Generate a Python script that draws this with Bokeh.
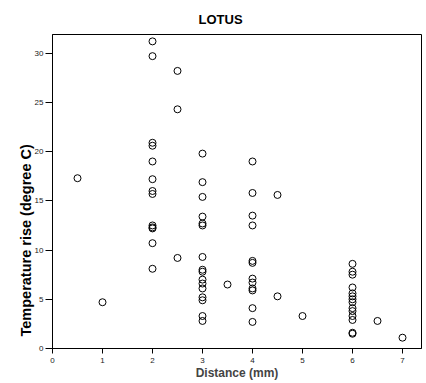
from bokeh.plotting import figure
from bokeh.models import Range1d, FixedTicker, Title
from bokeh.embed import file_html
from bokeh.resources import INLINE

# Data (distance in mm, temperature rise in degree C)
distance = (
    [0.5, 1.0]
    + [2.0] * 13
    + [2.5] * 3
    + [3.0] * 16
    + [3.5]
    + [4.0] * 12
    + [4.5] * 2
    + [5.0]
    + [6.0] * 14
    + [6.5, 7.0]
)
temperature = (
    [17.3, 4.7]
    + [31.2, 29.7, 20.9, 20.6, 19.0, 17.2, 16.0, 15.7, 12.5, 12.3, 12.2, 10.7, 8.1]
    + [28.2, 24.3, 9.2]
    + [19.8, 16.9, 15.4, 13.4, 12.7, 12.5, 9.3, 8.0, 7.8, 7.0, 6.6, 6.1, 5.2, 4.9, 3.3, 2.8]
    + [6.5]
    + [19.0, 15.8, 13.5, 12.5, 8.9, 8.7, 7.1, 6.7, 6.1, 5.9, 4.1, 2.7]
    + [15.6, 5.3]
    + [3.3]
    + [8.6, 7.8, 7.5, 6.2, 5.6, 5.3, 5.0, 4.7, 4.1, 3.8, 3.3, 2.9, 1.6, 1.5]
    + [2.8, 1.1]
)
x_ticks = [0, 1, 2, 3, 4, 5, 6, 7]
y_ticks = [0, 5, 10, 15, 20, 25, 30]

title_text = "LOTUS"
x_label = "Distance (mm)"
y_label = "Temperature rise (degree C)"

FONT = "Liberation Sans"

p = figure(
    frame_width=369, frame_height=314,
    min_border_left=52, min_border_right=4, min_border_top=34, min_border_bottom=31,
    x_range=Range1d(0, 7.38), y_range=Range1d(0, 31.9),
    output_backend="svg", toolbar_location=None,
)
p.background_fill_color = "white"
p.border_fill_color = "white"
p.outline_line_color = "black"
p.outline_line_width = 1
p.xgrid.visible = False
p.ygrid.visible = False

p.title.text = title_text
p.title.align = "left"
p.title.offset = 146
p.title.text_font = FONT
p.title.text_font_style = "bold"
p.title.text_font_size = "13px"
p.title.text_color = "black"
p.title.standoff = 15

p.scatter(distance, temperature, marker="circle", size=7,
          fill_color=None, line_color="black", line_width=1)

for ax, ticks in ((p.xaxis[0], x_ticks), (p.yaxis[0], y_ticks)):
    ax.ticker = FixedTicker(ticks=ticks)
    ax.minor_tick_line_color = None
    ax.major_tick_in = 0
    ax.axis_line_color = "black"
    ax.major_tick_line_color = "black"
    ax.major_label_text_font = FONT
    ax.major_label_text_font_size = "8px"
    ax.major_label_text_color = "#222222"

p.xaxis[0].major_tick_out = 5
p.xaxis[0].major_label_standoff = 4
p.xaxis[0].axis_label = x_label
p.xaxis[0].axis_label_text_font = FONT
p.xaxis[0].axis_label_text_font_style = "bold"
p.xaxis[0].axis_label_text_font_size = "12px"
p.xaxis[0].axis_label_standoff = 0

p.yaxis[0].major_tick_out = 7
p.yaxis[0].major_label_standoff = 2

# y-axis title, placed lower than the frame centre as in the reference
p.add_layout(Title(
    text=y_label, align="left", offset=12, standoff=-5,
    text_font=FONT, text_font_style="bold", text_font_size="14.5px",
    text_color="black",
), "left")

open("out.html", "w").write(file_html(p, INLINE))
